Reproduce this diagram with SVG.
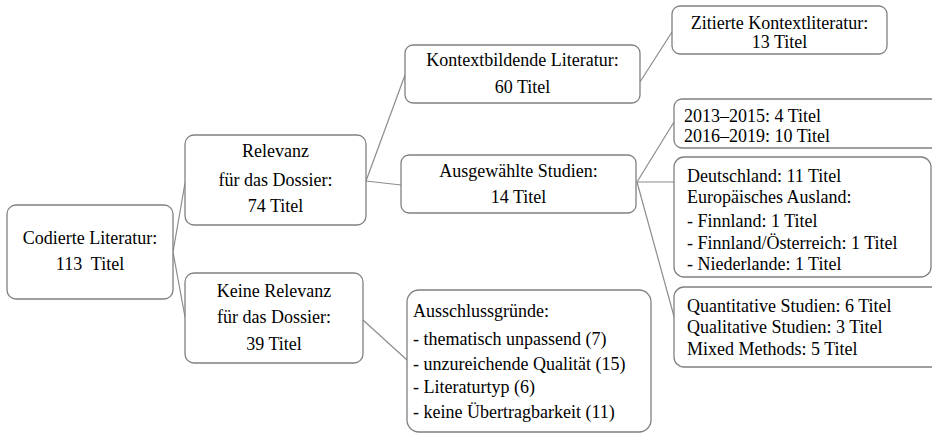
<svg xmlns="http://www.w3.org/2000/svg" width="932" height="439" viewBox="0 0 932 439">
<style>
rect.box{fill:#fff;stroke:#808080;stroke-width:1.3}
.t{font-size:18px;fill:#000}
.c{text-anchor:middle}
#connectors line{stroke:#8c8c8c;stroke-width:1.2}
</style>
<rect width="932" height="439" fill="#fff"/>
<g id="connectors">
<line x1="173" y1="252" x2="185" y2="183"/>
<line x1="173" y1="252" x2="185" y2="317"/>
<line x1="366" y1="181" x2="405" y2="75"/>
<line x1="366" y1="181" x2="401" y2="185"/>
<line x1="640" y1="82" x2="672" y2="32"/>
<line x1="637" y1="182" x2="674" y2="122"/>
<line x1="637" y1="182" x2="674" y2="182"/>
<line x1="637" y1="182" x2="675" y2="320"/>
<line x1="363" y1="320" x2="407" y2="360"/>
</g>
<g class="t" font-family="Liberation Serif, Times New Roman, serif">
<g id="n-codierte">
<rect class="box" x="7" y="205" width="166" height="94" rx="9"/>
<text class="c" x="90" y="244">Codierte Literatur:</text>
<text class="c" x="90" y="270" xml:space="preserve">113  Titel</text>
</g>
<g id="n-relevanz">
<rect class="box" x="185" y="135" width="181" height="90" rx="9"/>
<text class="c" x="275.5" y="157">Relevanz</text>
<text class="c" x="275.5" y="186">für das Dossier:</text>
<text class="c" x="275.5" y="212">74 Titel</text>
</g>
<g id="n-keine">
<rect class="box" x="185" y="273" width="178" height="90" rx="9"/>
<text class="c" x="274" y="297">Keine Relevanz</text>
<text class="c" x="274" y="323">für das Dossier:</text>
<text class="c" x="274" y="350">39 Titel</text>
</g>
<g id="n-kontext">
<rect class="box" x="405" y="45" width="235" height="58" rx="8"/>
<text class="c" x="522.5" y="66">Kontextbildende Literatur:</text>
<text class="c" x="522.5" y="93">60 Titel</text>
</g>
<g id="n-ausgewaehlt">
<rect class="box" x="401" y="155" width="235" height="58" rx="8"/>
<text class="c" x="518.5" y="177">Ausgewählte Studien:</text>
<text class="c" x="518.5" y="203">14 Titel</text>
</g>
<g id="n-zitiert">
<rect class="box" x="672" y="6" width="215" height="48" rx="8"/>
<text class="c" x="779.5" y="29">Zitierte Kontextliteratur:</text>
<text class="c" x="779.5" y="48">13 Titel</text>
</g>
<g id="n-jahre">
<rect class="box" x="674" y="99" width="280" height="49" rx="8"/>
<text x="684" y="122">2013–2015: 4 Titel</text>
<text x="684" y="142">2016–2019: 10 Titel</text>
</g>
<g id="n-laender">
<rect class="box" x="674" y="157" width="257" height="120" rx="10"/>
<text x="687" y="182">Deutschland: 11 Titel</text>
<text x="687" y="203">Europäisches Ausland:</text>
<text x="687" y="227">- Finnland: 1 Titel</text>
<text x="687" y="249">- Finnland/Österreich: 1 Titel</text>
<text x="687" y="270">- Niederlande: 1 Titel</text>
</g>
<g id="n-methoden">
<rect class="box" x="674" y="287" width="280" height="80" rx="10"/>
<text x="687" y="312">Quantitative Studien: 6 Titel</text>
<text x="687" y="333">Qualitative Studien: 3 Titel</text>
<text x="687" y="355">Mixed Methods: 5 Titel</text>
</g>
<g id="n-ausschluss">
<rect class="box" x="407" y="290" width="244" height="142" rx="12"/>
<text x="413" y="317">Ausschlussgründe:</text>
<text x="413" y="345">- thematisch unpassend (7)</text>
<text x="413" y="370">- unzureichende Qualität (15)</text>
<text x="413" y="393">- Literaturtyp (6)</text>
<text x="413" y="418">- keine Übertragbarkeit (11)</text>
</g>
</g>
</svg>
